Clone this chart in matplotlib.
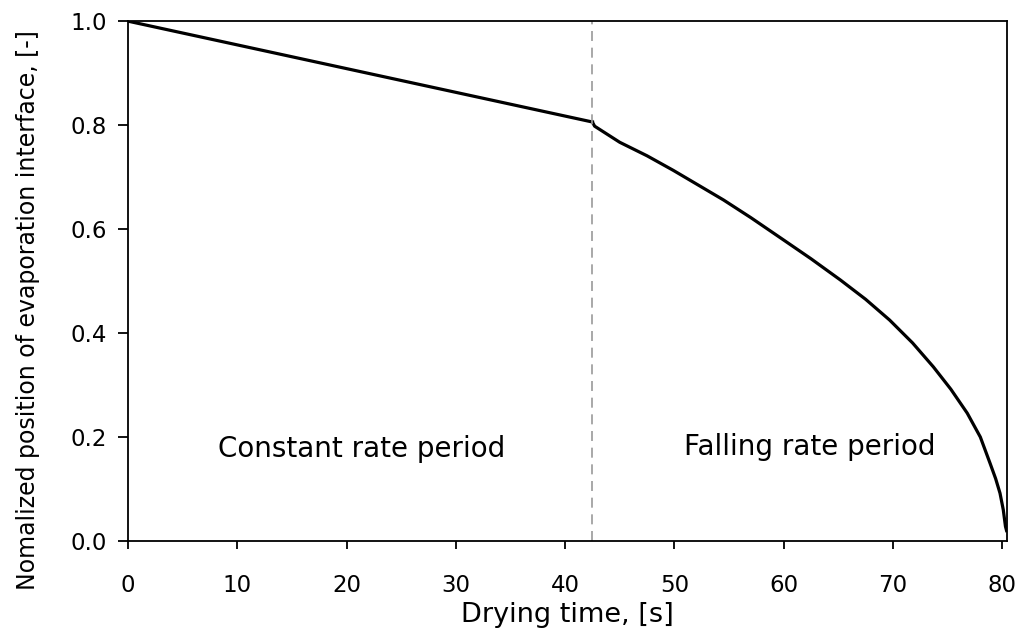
import numpy as np
import matplotlib
matplotlib.use("Agg")
import matplotlib.pyplot as plt

plt.rcParams['font.family'] = ['DejaVu Sans']

# periodo de velocidad constante (lineal)
t_const = [0.0, 42.5]
x_const = [1.0, 0.806]

# periodo de velocidad decreciente
t_fall = [42.5, 42.7, 45.0, 47.5, 49.9, 52.0, 54.5, 57.0, 60.0, 62.5, 65.2, 67.5,
          69.7, 71.8, 73.7, 75.3, 76.8, 78.0, 78.9, 79.4, 79.8, 80.1, 80.3, 80.4]
x_fall = [0.806, 0.798, 0.767, 0.741, 0.713, 0.687, 0.656, 0.622, 0.579, 0.543, 0.502, 0.465,
          0.425, 0.381, 0.335, 0.292, 0.246, 0.200, 0.149, 0.120, 0.092, 0.060, 0.028, 0.02]

t_crit = 42.5

fig = plt.figure(figsize=(10.24, 6.41), dpi=100)
ax = fig.add_axes([0.125, 0.156, 0.8585, 0.811])

ax.plot(t_const, x_const, color='black', lw=2.3)
ax.plot(t_fall, x_fall, color='black', lw=2.3, solid_joinstyle='round')
ax.axvline(t_crit, color='#999999', lw=1.2, ls=(0, (6, 4)))

ax.text(21.4, 0.177, "Constant rate period", fontsize=20, ha='center', va='center')
ax.text(62.4, 0.18, "Falling rate period", fontsize=20, ha='center', va='center')

ax.set_xlim(0, 80.45)
ax.set_ylim(0, 1.0)
ax.set_xticks(np.arange(0, 81, 10))
ax.set_yticks(np.arange(0, 1.01, 0.2))
ax.yaxis.set_major_formatter(matplotlib.ticker.FormatStrFormatter('%.1f'))

ax.tick_params(axis='x', direction='out', length=6, width=1.3, pad=18, labelsize=16.5)
ax.tick_params(axis='y', direction='out', length=7, width=1.3, pad=8, labelsize=16.5)
for s in ax.spines.values():
    s.set_linewidth(1.3)

ax.set_xlabel("Drying time, [s]", fontsize=19.5, labelpad=3)
ax.set_ylabel("Nomalized position of evaporation interface, [-]", fontsize=17)
ax.yaxis.set_label_coords(-0.1, 0.445)

fig.savefig("out.png", dpi=100)
